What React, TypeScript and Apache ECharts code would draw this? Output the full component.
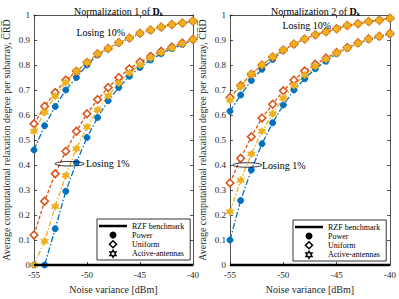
import { useEffect, useRef } from 'react';
import * as echarts from 'echarts';

const noise = [-55, -54, -53, -52, -51, -50, -49, -48, -47, -46, -45, -44, -43, -42, -41, -40];

// Normalization 1 – Losing 10%
const n1Power10 = [0.46, 0.557, 0.634, 0.70, 0.75, 0.80, 0.84, 0.865, 0.888, 0.907, 0.925, 0.938, 0.95, 0.961, 0.967, 0.975];
const n1Uniform10 = [0.565, 0.635, 0.69, 0.74, 0.775, 0.81, 0.845, 0.866, 0.89, 0.908, 0.927, 0.94, 0.952, 0.962, 0.968, 0.976];
const n1Active10 = [0.535, 0.61, 0.675, 0.73, 0.775, 0.81, 0.845, 0.866, 0.89, 0.908, 0.927, 0.94, 0.952, 0.962, 0.968, 0.976];
// Normalization 1 – Losing 1%
const n1Power1 = [0, 0, 0.145, 0.295, 0.41, 0.51, 0.59, 0.657, 0.71, 0.755, 0.79, 0.82, 0.845, 0.865, 0.882, 0.9];
const n1Uniform1 = [0.12, 0.255, 0.365, 0.455, 0.535, 0.605, 0.662, 0.71, 0.75, 0.785, 0.812, 0.835, 0.855, 0.872, 0.888, 0.903];
const n1Active1 = [0, 0.095, 0.234, 0.358, 0.465, 0.552, 0.62, 0.677, 0.728, 0.768, 0.8, 0.828, 0.85, 0.868, 0.885, 0.902];

// Normalization 2 – Losing 10%
const n2Power10 = [0.615, 0.68, 0.738, 0.783, 0.822, 0.858, 0.882, 0.905, 0.92, 0.935, 0.947, 0.957, 0.966, 0.974, 0.98, 0.986];
const n2Uniform10 = [0.67, 0.718, 0.763, 0.80, 0.832, 0.86, 0.884, 0.904, 0.921, 0.933, 0.945, 0.958, 0.965, 0.974, 0.979, 0.987];
const n2Active10 = [0.66, 0.715, 0.763, 0.80, 0.832, 0.86, 0.884, 0.904, 0.921, 0.933, 0.945, 0.958, 0.965, 0.974, 0.979, 0.987];
// Normalization 2 – Losing 1%
const n2Power1 = [0.10, 0.258, 0.38, 0.485, 0.569, 0.64, 0.70, 0.745, 0.785, 0.815, 0.845, 0.866, 0.886, 0.902, 0.913, 0.923];
const n2Uniform1 = [0.328, 0.427, 0.513, 0.588, 0.643, 0.697, 0.74, 0.776, 0.803, 0.828, 0.85, 0.87, 0.889, 0.905, 0.915, 0.926];
const n2Active1 = [0.213, 0.339, 0.444, 0.535, 0.605, 0.667, 0.718, 0.76, 0.795, 0.823, 0.848, 0.868, 0.887, 0.904, 0.914, 0.925];

const rzf = [0, 0, 0, 0, 0, 0, 0, 0, 0, 0, 0, 0, 0, 0, 0, 0];

const xTicks = { min: -55, max: -40, interval: 5 };
const yTicks = { min: 0, max: 1, interval: 0.1 };

const titles = ['Normalization 1 of {b|D}{s|k}', 'Normalization 2 of {b|D}{s|k}'];
const xName = 'Noise variance [dBm]';
const yName = 'Average computational relaxation degree per subarray, C\u0305R\u0305D\u0305';
const legendNames = ['RZF benchmark', 'Power', 'Uniform', 'Active-antennas'];

// annotation anchors (data coordinates)
const label10 = [[-48.7, 0.929], [-47.8, 0.96]];
const ellipse1 = [[-51.65, 0.405, 1.37, 0.009], [-53.37, 0.4, 1.35, 0.009]];
const label1 = [[-50.1, 0.405], [-52.0, 0.4]];

const HEX = 'path://M50,0L64.43,25L93.3,25L78.87,50L93.3,75L64.43,75L50,100L35.57,75L6.7,75L21.13,50L6.7,25L35.57,25Z';
const DIAMOND = 'path://M50,0L100,50L50,100L0,50Z';
const BAR = 'path://M0,0L112,0L112,10L0,10Z';
const FONT = 'Liberation Serif';
const AX = '#262626';
const BLUE = '#0072BD';
const ORANGE = '#D95319';
const YELLOW = '#EDB120';

const pts = (ys: number[]) => noise.map((x, i) => [x, ys[i]]);

export default function App() {
  const ref = useRef<HTMLDivElement>(null);
  useEffect(() => {
    document.body.style.margin = '0';
    if (!ref.current) return;
    const chart = echarts.init(ref.current, undefined, { renderer: 'svg' });

    const grids = [
      { left: 34, top: 15, width: 159, height: 253 },
      { left: 230, top: 15, width: 161, height: 253 },
    ];
    const xAxis: any[] = [];
    const yAxis: any[] = [];
    grids.forEach((_, g) => {
      const common = {
        type: 'value', gridIndex: g, ...xTicks,
        splitLine: { show: false },
        axisLine: { show: true, onZero: false, lineStyle: { color: AX, width: 0.8 } },
        axisTick: { show: true, inside: true, length: 3, lineStyle: { color: AX, width: 0.8 } },
      };
      xAxis.push({
        ...common, position: 'bottom',
        axisLabel: { fontSize: 9, fontFamily: FONT, color: AX, margin: 5 },
        name: xName, nameLocation: 'middle', nameGap: 19,
        nameTextStyle: { fontSize: 10, fontFamily: FONT, color: AX },
      });
      xAxis.push({ ...common, position: 'top', axisLabel: { show: false } });
      const ycommon = {
        type: 'value', gridIndex: g, ...yTicks,
        splitLine: { show: false },
        axisLine: { show: true, onZero: false, lineStyle: { color: AX, width: 0.8 } },
        axisTick: { show: true, inside: true, length: 3, lineStyle: { color: AX, width: 0.8 } },
      };
      yAxis.push({
        ...ycommon, position: 'left',
        axisLabel: {
          fontSize: 9, fontFamily: FONT, color: AX, margin: 4,
          formatter: (v: number) => (v === 0 || v === 1 ? String(v) : v.toFixed(1)),
        },
        name: yName, nameLocation: 'middle', nameGap: 23, nameRotate: 90,
        nameTextStyle: { fontSize: 10, fontFamily: FONT, color: AX },
      });
      yAxis.push({ ...ycommon, position: 'right', axisLabel: { show: false } });
    });

    const sets = [
      { p10: n1Power10, u10: n1Uniform10, a10: n1Active10, p1: n1Power1, u1: n1Uniform1, a1: n1Active1 },
      { p10: n2Power10, u10: n2Uniform10, a10: n2Active10, p1: n2Power1, u1: n2Uniform1, a1: n2Active1 },
    ];

    const series: any[] = [];
    sets.forEach((s, g) => {
      const axes = { xAxisIndex: g * 2, yAxisIndex: g * 2 };
      series.push({
        name: 'RZF benchmark', type: 'line', ...axes, data: pts(rzf), symbol: 'none', clip: false,
        lineStyle: { color: '#000', width: 2.5 }, itemStyle: { color: '#000' }, z: 5,
      });
      const mk = (name: string, ys: number[]) => {
        if (name === 'Power') {
          return {
            name, type: 'line', ...axes, data: pts(ys), clip: false,
            symbol: 'circle', symbolSize: 6,
            lineStyle: { color: BLUE, width: 1.3, type: [6, 2, 1.5, 2] },
            itemStyle: { color: BLUE, borderColor: BLUE },
          };
        }
        if (name === 'Uniform') {
          return {
            name, type: 'line', ...axes, data: pts(ys), clip: false,
            symbol: 'diamond', symbolSize: 7.5,
            lineStyle: { color: ORANGE, width: 1.3, type: [3.5, 2] },
            itemStyle: { color: '#fff', borderColor: ORANGE, borderWidth: 1.6 },
          };
        }
        return {
          name, type: 'line', ...axes, data: pts(ys), clip: false,
          symbol: HEX, symbolSize: 8,
          lineStyle: { color: YELLOW, width: 1.3, type: [5, 2, 1.5, 2] },
          itemStyle: { color: YELLOW, borderColor: YELLOW, borderWidth: 0.5 },
        };
      };
      series.push(mk('Power', s.p10), mk('Power', s.p1));
      series.push(mk('Uniform', s.u10), mk('Uniform', s.u1));
      series.push(mk('Active-antennas', s.a10), mk('Active-antennas', s.a1));

      const textSeries = (pos: number[], text: string, align: string) => ({
        type: 'custom', ...axes, silent: true, clip: false, z: 6,
        data: [pos],
        renderItem: (_p: any, api: any) => {
          const c = api.coord([api.value(0), api.value(1)]);
          return {
            type: 'text', x: c[0], y: c[1],
            style: { text, fill: '#000', font: `10px "${FONT}"`, align, verticalAlign: 'middle' },
          };
        },
      });
      series.push(textSeries(label10[g], 'Losing 10%', 'center'));
      series.push(textSeries(label1[g], 'Losing 1%', 'left'));
      series.push({
        type: 'custom', ...axes, silent: true, clip: false, z: 6,
        data: [ellipse1[g]],
        renderItem: (_p: any, api: any) => {
          const cx = api.value(0), cy = api.value(1), rx = api.value(2), ry = api.value(3);
          const c = api.coord([cx, cy]);
          const e = api.coord([cx + rx, cy + ry]);
          return {
            type: 'ellipse',
            shape: { cx: c[0], cy: c[1], rx: e[0] - c[0], ry: c[1] - e[1] },
            style: { fill: 'none', stroke: '#000', lineWidth: 0.8 },
          };
        },
      });
    });

    const legendData = [
      { name: legendNames[0], icon: BAR, itemStyle: { color: '#000', borderWidth: 0 } },
      { name: legendNames[1], icon: 'circle', itemStyle: { color: '#000', borderColor: '#000', borderWidth: 0 } },
      { name: legendNames[2], icon: DIAMOND, itemStyle: { color: '#fff', borderColor: '#000', borderWidth: 1.5 } },
      { name: legendNames[3], icon: HEX, itemStyle: { color: '#fff', borderColor: '#000', borderWidth: 1.5 } },
    ];
    const legendBase = {
      orient: 'vertical', backgroundColor: '#fff', borderColor: '#000', borderWidth: 0.8,
      padding: [3, 6, 2, 2], itemGap: 1, itemWidth: 28, itemHeight: 7,
      textStyle: { fontSize: 8, fontFamily: FONT, color: '#000' },
      selectedMode: false, data: legendData,
    };

    const titleStyle = {
      fontSize: 10, fontFamily: FONT, color: '#000', fontWeight: 'normal',
      rich: {
        b: { fontSize: 10, fontFamily: FONT, fontWeight: 'bold', color: '#000' },
        s: { fontSize: 6, fontFamily: FONT, fontWeight: 'bold', color: '#000', padding: [5, 0, 0, 0] },
      },
    };

    chart.setOption({
      animation: false,
      backgroundColor: '#fff',
      title: [
        { text: titles[0], left: 113.5, top: 1, textAlign: 'center', textStyle: titleStyle },
        { text: titles[1], left: 310.5, top: 1, textAlign: 'center', textStyle: titleStyle },
      ],
      grid: grids,
      xAxis, yAxis,
      legend: [
        { ...legendBase, left: 97, top: 219 },
        { ...legendBase, left: 293, top: 220 },
      ],
      series,
    });
    return () => chart.dispose();
  }, []);
  return <div ref={ref} style={{ width: 399, height: 299 }} />;
}
